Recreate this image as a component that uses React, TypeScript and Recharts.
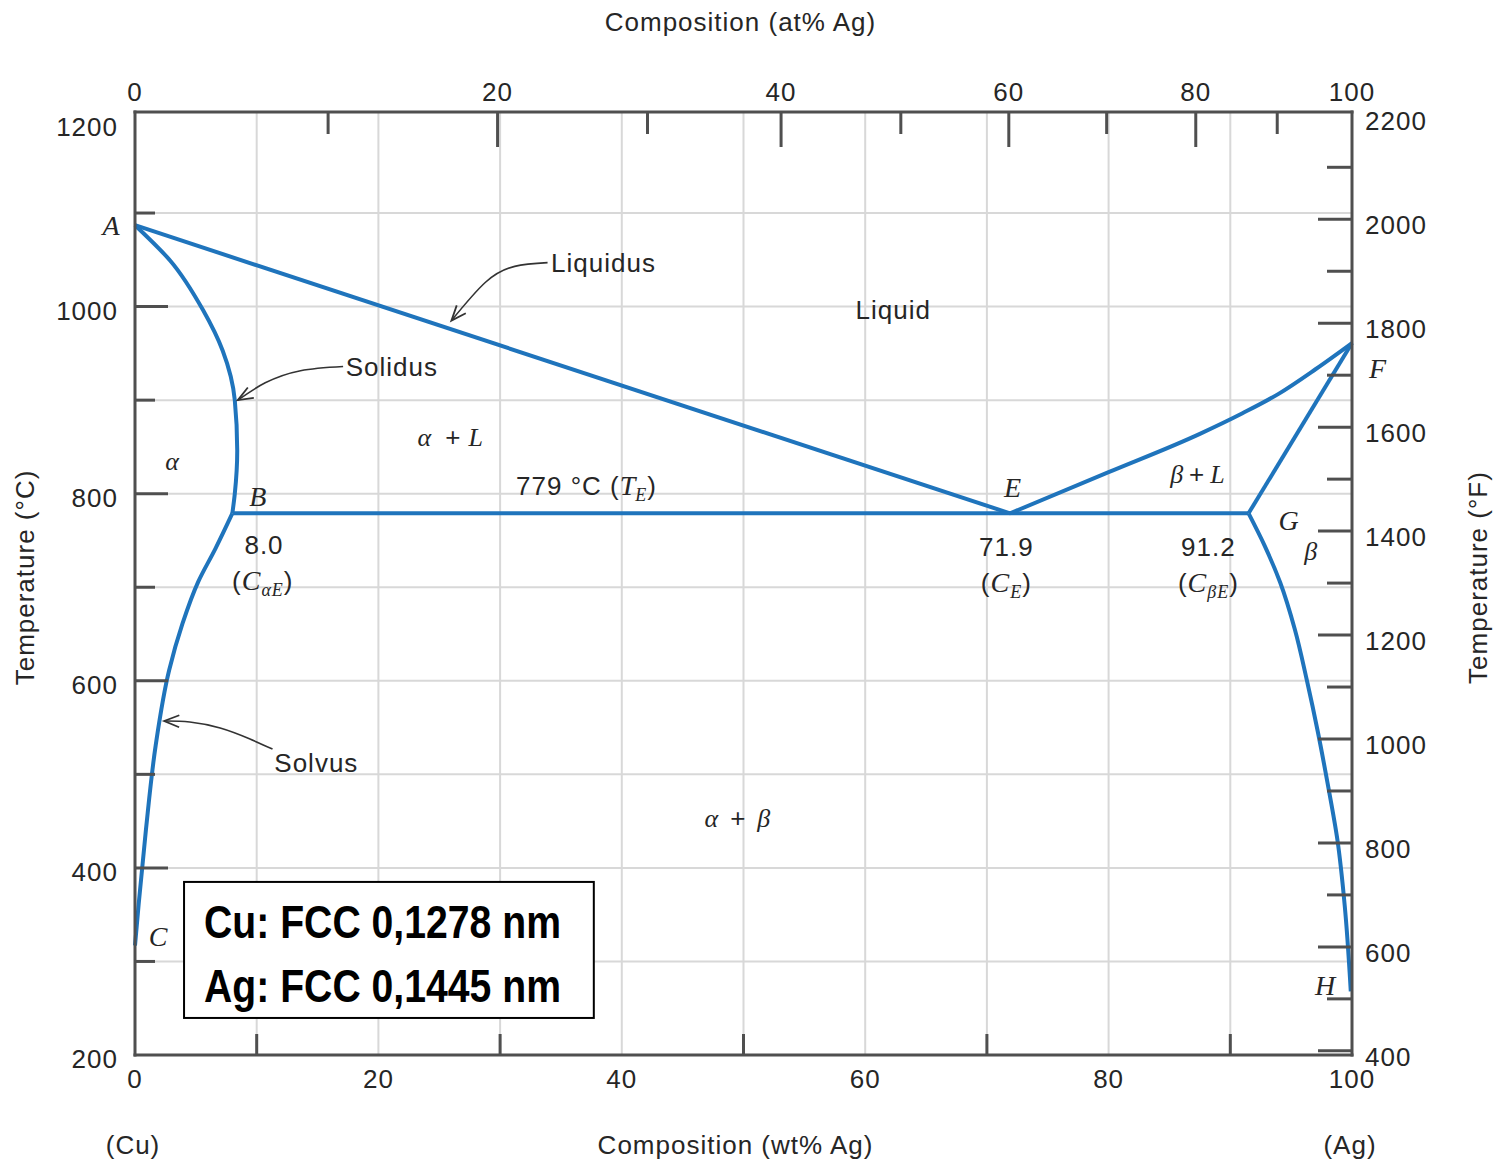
import React from "react";
import {
  LineChart,
  Line,
  XAxis,
  YAxis,
  CartesianGrid,
  ReferenceDot,
  ReferenceArea,
} from "recharts";

// Cu-Ag phase diagram: x = wt% Ag, t = temperature (°C)
const liquidusLeft = [
  { w: 0, t: 1087 },
  { w: 71.9, t: 779 },
];
const solidusLeft = [
  { w: 0, t: 1087 },
  { w: 2.9, t: 1049 },
  { w: 5.6, t: 996 },
  { w: 7.2, t: 953 },
  { w: 8.2, t: 900 },
  { w: 8.4, t: 846 },
  { w: 8.2, t: 800 },
  { w: 8.0, t: 779 },
];
const solvusLeft = [
  { w: 8.0, t: 779 },
  { w: 6.6, t: 741 },
  { w: 5.2, t: 706 },
  { w: 3.9, t: 661 },
  { w: 2.8, t: 611 },
  { w: 1.7, t: 531 },
  { w: 0.9, t: 441 },
  { w: 0.3, t: 361 },
  { w: 0, t: 317 },
];
const eutectic = [
  { w: 8.0, t: 779 },
  { w: 91.5, t: 779 },
];
const liquidusRight = [
  { w: 71.9, t: 779 },
  { w: 80, t: 823 },
  { w: 87.5, t: 864 },
  { w: 91, t: 886 },
  { w: 94, t: 907 },
  { w: 97, t: 933 },
  { w: 100, t: 961 },
];
const solidusRight = [
  { w: 91.5, t: 779 },
  { w: 100, t: 961 },
];
const solvusRight = [
  { w: 91.5, t: 779 },
  { w: 92.8, t: 745 },
  { w: 94.1, t: 705 },
  { w: 95.3, t: 655 },
  { w: 96.3, t: 600 },
  { w: 97.2, t: 545 },
  { w: 98.0, t: 490 },
  { w: 98.8, t: 430 },
  { w: 99.4, t: 360 },
  { w: 99.9, t: 268 },
];

// pointer arrows for the curve names
const liquidusArrow = [
  { w: 33.9, t: 1047 },
  { w: 31.2, t: 1043 },
  { w: 28.8, t: 1026 },
  { w: 26.0, t: 985 },
];
const solidusArrow = [
  { w: 17.1, t: 936 },
  { w: 13.6, t: 931.5 },
  { w: 10.7, t: 918.5 },
  { w: 8.45, t: 900 },
];
const solvusArrow = [
  { w: 11.3, t: 527 },
  { w: 9.4, t: 538 },
  { w: 7.0, t: 549.5 },
  { w: 4.5, t: 556 },
  { w: 2.4, t: 557 },
];

// tick values
const wtTicks = [0, 10, 20, 30, 40, 50, 60, 70, 80, 90, 100];
const atTicks = [0, 10, 20, 30, 40, 50, 60, 70, 80, 90, 100];
const cTicks = [200, 300, 400, 500, 600, 700, 800, 900, 1000, 1100, 1200];
const fTicks = [
  400, 500, 600, 700, 800, 900, 1000, 1100, 1200, 1300, 1400, 1500, 1600,
  1700, 1800, 1900, 2000, 2100, 2200,
];

const M_AG = 107.87;
const M_CU = 63.55;
const atToWt = (a: number) => (100 * a * M_AG) / (a * M_AG + (100 - a) * M_CU);
const atTickPos = atTicks.map(atToWt);

const T_MIN = 200;
const T_MAX = 1208;
const cToF = (c: number) => (c * 9) / 5 + 32;

// annotation anchors (wt%, °C)
const notes = [
  { id: "A", w: -1.97, t: 1087 },
  { id: "Liquidus", w: 38.5, t: 1047 },
  { id: "Liquid", w: 62.3, t: 996 },
  { id: "Solidus", w: 21.1, t: 936 },
  { id: "alpha", w: 3.04, t: 835 },
  { id: "aL", w: 25.9, t: 861 },
  { id: "TE", w: 37.1, t: 808.5 },
  { id: "B", w: 10.1, t: 797 },
  { id: "n8", w: 10.6, t: 745.5 },
  { id: "CaE", w: 10.5, t: 707 },
  { id: "E", w: 72.1, t: 806.5 },
  { id: "n71", w: 71.6, t: 743 },
  { id: "CE", w: 71.6, t: 705 },
  { id: "bL", w: 87.3, t: 821.5 },
  { id: "n91", w: 88.2, t: 743 },
  { id: "CbE", w: 88.2, t: 705 },
  { id: "G", w: 94.8, t: 772 },
  { id: "beta", w: 96.6, t: 739 },
  { id: "F", w: 102.1, t: 934 },
  { id: "H", w: 97.8, t: 275 },
  { id: "C", w: 1.9, t: 327 },
  { id: "Solvus", w: 14.9, t: 512 },
  { id: "ab", w: 49.5, t: 453.5 },
];

const heads = [
  { w: 26.0, t: 985, angle: 131 },
  { w: 8.45, t: 900, angle: 150 },
  { w: 2.4, t: 557, angle: 181 },
];

const SANS = "'Liberation Sans', Arial, sans-serif";
const SERIF = "'Liberation Serif', 'Times New Roman', serif";
const INK = "#262626";
const FRAME = "#4f4f4f";
const BLUE = "#1f74bc";

const sans = { fontFamily: SANS, fontSize: 26, letterSpacing: 1, fill: INK };
const ital = { fontFamily: SERIF, fontStyle: "italic" as const, fontSize: 28, fill: INK };

const renderNote = (id: string, x: number, y: number) => {
  const common = { x, y, dy: "0.35em", textAnchor: "middle" as const };
  switch (id) {
    case "A":
    case "B":
    case "C":
    case "E":
    case "F":
    case "G":
    case "H":
      return <text {...common} {...ital}>{id}</text>;
    case "alpha":
      return <text {...common} {...ital} fontSize={26}>α</text>;
    case "beta":
      return <text {...common} {...ital} fontSize={26}>β</text>;
    case "Liquidus":
    case "Liquid":
    case "Solidus":
    case "Solvus":
      return <text {...common} {...sans}>{id}</text>;
    case "n8":
      return <text {...common} {...sans}>8.0</text>;
    case "n71":
      return <text {...common} {...sans}>71.9</text>;
    case "n91":
      return <text {...common} {...sans}>91.2</text>;
    case "aL":
      return (
        <text {...common} {...ital} fontSize={26}>
          <tspan>α</tspan>
          <tspan dx={14} fontFamily={SANS} fontStyle="normal">+</tspan>
          <tspan dx={8}>L</tspan>
        </text>
      );
    case "bL":
      return (
        <text {...common} {...ital} fontSize={26}>
          <tspan>β</tspan>
          <tspan dx={6} fontFamily={SANS} fontStyle="normal">+</tspan>
          <tspan dx={6}>L</tspan>
        </text>
      );
    case "ab":
      return (
        <text {...common} {...ital} fontSize={26}>
          <tspan>α</tspan>
          <tspan dx={12} fontFamily={SANS} fontStyle="normal">+</tspan>
          <tspan dx={12}>β</tspan>
        </text>
      );
    case "TE":
      return (
        <text {...common} {...sans}>
          <tspan>779 °C (</tspan>
          <tspan fontFamily={SERIF} fontStyle="italic" fontSize={28} letterSpacing={0}>T</tspan>
          <tspan fontFamily={SERIF} fontStyle="italic" fontSize={18} dy={6}>E</tspan>
          <tspan dy={-6}>)</tspan>
        </text>
      );
    case "CaE":
    case "CE":
    case "CbE": {
      const sub = id === "CaE" ? "αE" : id === "CbE" ? "βE" : "E";
      return (
        <text {...common} {...sans}>
          <tspan>(</tspan>
          <tspan fontFamily={SERIF} fontStyle="italic" fontSize={28}>C</tspan>
          <tspan fontFamily={SERIF} fontStyle="italic" fontSize={18} dy={6}>{sub}</tspan>
          <tspan dy={-6}>)</tspan>
        </text>
      );
    }
    default:
      return null;
  }
};

const LeftTick = ({ x, y, payload }: any) => {
  const v = payload.value;
  const major = v % 200 === 0;
  return (
    <g>
      {v > 200 && v < 1200 && (
        <line x1={x} x2={x + (major ? 33 : 20)} y1={y} y2={y} stroke={FRAME} strokeWidth={3} />
      )}
      {major && (
        <text x={x - 17} y={y + (v === 1200 ? 17 : 13)} textAnchor="end" {...sans}>
          {v}
        </text>
      )}
    </g>
  );
};

const RightTick = ({ x, y, payload }: any) => {
  const v = payload.value;
  const major = v % 200 === 0;
  return (
    <g>
      {v < 2200 && (
        <line x1={x} x2={x - (major ? 34 : 25)} y1={y} y2={y} stroke={FRAME} strokeWidth={3} />
      )}
      {major && (
        <text x={x + 13} y={y + 15} textAnchor="start" {...sans}>
          {v}
        </text>
      )}
    </g>
  );
};

const TopTick = ({ x, y, index }: any) => {
  const a = atTicks[index];
  const major = a % 20 === 0;
  return (
    <g>
      {a > 0 && a < 100 && (
        <line x1={x} x2={x} y1={y} y2={y + (major ? 35 : 22)} stroke={FRAME} strokeWidth={3} />
      )}
      {major && (
        <text x={x} y={y - 11} textAnchor="middle" {...sans}>
          {a}
        </text>
      )}
    </g>
  );
};

const BottomTick = ({ x, y, payload }: any) => {
  const v = payload.value;
  const labelled = v % 20 === 0;
  return (
    <g>
      {!labelled && (
        <line x1={x} x2={x} y1={y} y2={y - 21} stroke={FRAME} strokeWidth={3} />
      )}
      {labelled && (
        <text x={x} y={y + 33} textAnchor="middle" {...sans}>
          {v}
        </text>
      )}
    </g>
  );
};

const LegendBox = ({ x, y, width, height }: any) => (
  <g>
    <rect x={x} y={y} width={width} height={height} fill="#fff" stroke="#000" strokeWidth={2} />
    <text
      x={x + 20}
      y={y + 56}
      fontFamily="'Liberation Sans Narrow', 'Arial Narrow', 'Liberation Sans', Arial, sans-serif"
      fontWeight="bold"
      fontSize={47}
      fill="#000"
      textLength={357}
      lengthAdjust="spacingAndGlyphs"
    >
      Cu: FCC 0,1278 nm
    </text>
    <text
      x={x + 20}
      y={y + 120}
      fontFamily="'Liberation Sans Narrow', 'Arial Narrow', 'Liberation Sans', Arial, sans-serif"
      fontWeight="bold"
      fontSize={47}
      fill="#000"
      textLength={357}
      lengthAdjust="spacingAndGlyphs"
    >
      Ag: FCC 0,1445 nm
    </text>
  </g>
);

const phaseLines = [
  { key: "liqL", data: liquidusLeft, type: "linear" },
  { key: "solL", data: solidusLeft, type: "monotoneY" },
  { key: "svL", data: solvusLeft, type: "monotoneY" },
  { key: "eut", data: eutectic, type: "linear" },
  { key: "liqR", data: liquidusRight, type: "monotoneX" },
  { key: "solR", data: solidusRight, type: "linear" },
  { key: "svR", data: solvusRight, type: "monotoneY" },
];

const arrowLines = [
  { key: "aLiq", data: liquidusArrow },
  { key: "aSol", data: solidusArrow },
  { key: "aSv", data: solvusArrow },
];

const axisLine = { stroke: FRAME, strokeWidth: 3, strokeLinecap: "square" as const };

export default function App() {
  return (
    <div style={{ position: "absolute", left: 0, top: 0, width: 1499, height: 1162, background: "#fff" }}>
      <LineChart width={1499} height={1162} margin={{ top: 72, right: 87, bottom: 67, left: 75 }}>
        <CartesianGrid
          xAxisId="wt"
          yAxisId="c"
          stroke="#d8d8d8"
          strokeWidth={2}
          horizontalValues={[300, 400, 500, 600, 700, 800, 900, 1000, 1100]}
          verticalValues={[10, 20, 30, 40, 50, 60, 70, 80, 90]}
        />
        <XAxis
          xAxisId="wt"
          dataKey="w"
          type="number"
          orientation="bottom"
          domain={[0, 100]}
          ticks={wtTicks}
          interval={0}
          height={40}
          tickSize={0}
          tickMargin={0}
          axisLine={axisLine}
          tickLine={false}
          tick={<BottomTick />}
          label={(p: any) => {
            const vb = p.viewBox;
            return (
              <g>
                <text x={vb.x + vb.width / 2 - 8} y={vb.y + 99} textAnchor="middle" {...sans}>
                  Composition (wt% Ag)
                </text>
                <text x={vb.x - 2} y={vb.y + 99} textAnchor="middle" {...sans}>
                  (Cu)
                </text>
                <text x={vb.x + vb.width - 2} y={vb.y + 99} textAnchor="middle" {...sans}>
                  (Ag)
                </text>
              </g>
            );
          }}
        />
        <XAxis
          xAxisId="at"
          dataKey="w"
          type="number"
          orientation="top"
          domain={[0, 100]}
          allowDataOverflow
          ticks={atTickPos}
          interval={0}
          height={40}
          tickSize={0}
          tickMargin={0}
          axisLine={axisLine}
          tickLine={false}
          tick={<TopTick />}
          label={(p: any) => {
            const vb = p.viewBox;
            return (
              <text x={vb.x + vb.width / 2 - 3} y={vb.y - 41} textAnchor="middle" {...sans}>
                Composition (at% Ag)
              </text>
            );
          }}
        />
        <YAxis
          yAxisId="c"
          type="number"
          orientation="left"
          domain={[T_MIN, T_MAX]}
          ticks={cTicks}
          interval={0}
          width={60}
          tickSize={0}
          tickMargin={0}
          axisLine={axisLine}
          tickLine={false}
          tick={<LeftTick />}
          label={(p: any) => {
            const vb = p.viewBox;
            const cx = vb.x - 50;
            const cy = vb.y + vb.height / 2 - 6;
            return (
              <text transform={`translate(${cx},${cy}) rotate(-90)`} textAnchor="middle" dy="0.35em" {...sans}>
                Temperature (°C)
              </text>
            );
          }}
        />
        <YAxis
          yAxisId="f"
          type="number"
          orientation="right"
          domain={[cToF(T_MIN), cToF(T_MAX)]}
          allowDataOverflow
          ticks={fTicks}
          interval={0}
          width={60}
          tickSize={0}
          tickMargin={0}
          axisLine={axisLine}
          tickLine={false}
          tick={<RightTick />}
          label={(p: any) => {
            const vb = p.viewBox;
            const cx = vb.x + 126;
            const cy = vb.y + vb.height / 2 - 6;
            return (
              <text transform={`translate(${cx},${cy}) rotate(-90)`} textAnchor="middle" dy="0.35em" {...sans}>
                Temperature (°F)
              </text>
            );
          }}
        />

        {phaseLines.map((l) => (
          <Line
            key={l.key}
            xAxisId="wt"
            yAxisId="c"
            data={l.data}
            dataKey="t"
            type={l.type as any}
            stroke={BLUE}
            strokeWidth={4}
            dot={false}
            activeDot={false}
            isAnimationActive={false}
          />
        ))}
        {arrowLines.map((l) => (
          <Line
            key={l.key}
            xAxisId="wt"
            yAxisId="c"
            data={l.data}
            dataKey="t"
            type="natural"
            stroke="#333"
            strokeWidth={1.6}
            dot={false}
            activeDot={false}
            isAnimationActive={false}
          />
        ))}
        {heads.map((h, i) => (
          <ReferenceDot
            key={"head" + i}
            xAxisId="wt"
            yAxisId="c"
            x={h.w}
            y={h.t}
            r={1}
            ifOverflow="visible"
            shape={(p: any) => (
              <g transform={`translate(${p.cx},${p.cy}) rotate(${h.angle})`}>
                <path d="M-15,-6 L0,0 L-15,6" fill="none" stroke="#333" strokeWidth={1.8} />
              </g>
            )}
          />
        ))}
        {notes.map((n) => (
          <ReferenceDot
            key={n.id}
            xAxisId="wt"
            yAxisId="c"
            x={n.w}
            y={n.t}
            r={1}
            ifOverflow="visible"
            shape={(p: any) => renderNote(n.id, p.cx, p.cy)}
          />
        ))}
        <ReferenceArea
          xAxisId="wt"
          yAxisId="c"
          x1={4.03}
          x2={37.7}
          y1={239.6}
          y2={385}
          ifOverflow="visible"
          shape={<LegendBox />}
        />
      </LineChart>
    </div>
  );
}
